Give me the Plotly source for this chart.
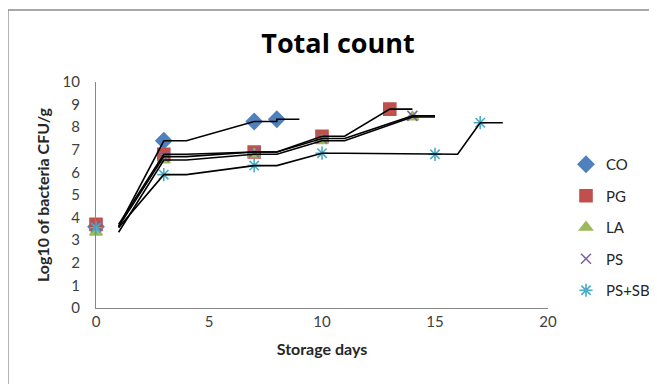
import plotly.graph_objects as go

# ---- data ----
series_names = ["CO", "PG", "LA", "PS", "PS+SB"]
co_days = [0, 3, 7, 8]
co_vals = [3.6, 7.4, 8.25, 8.35]
pg_days = [0, 3, 7, 10, 13]
pg_vals = [3.7, 6.8, 6.9, 7.6, 8.8]
la_days = [0, 3, 7, 10, 14]
la_vals = [3.35, 6.55, 6.8, 7.4, 8.45]
ps_days = [0, 3, 7, 10, 14]
ps_vals = [3.6, 6.7, 6.9, 7.5, 8.5]
pssb_days = [0, 3, 7, 10, 15, 17]
pssb_vals = [3.55, 5.9, 6.3, 6.85, 6.8, 8.2]

x_ticks = [0, 5, 10, 15, 20]
y_ticks = list(range(0, 11))

styles = {
    "CO": dict(symbol="diamond", color="#4F81BD", size=12),
    "PG": dict(symbol="square", color="#C0504D", size=12),
    "LA": dict(symbol="triangle-up", color="#9BBB59", size=11),
    "PS": dict(symbol="x-thin-open", color="#8064A2", size=10),
    "PS+SB": dict(symbol="asterisk-open", color="#4BACC6", size=11),
}

data = {
    "CO": (co_days, co_vals),
    "PG": (pg_days, pg_vals),
    "LA": (la_days, la_vals),
    "PS": (ps_days, ps_vals),
    "PS+SB": (pssb_days, pssb_vals),
}

fig = go.Figure()

for i, name in enumerate(series_names):
    d, v = data[name]
    s = styles[name]
    fig.add_trace(go.Scatter(
        x=d, y=v, mode="markers", name=name,
        legendgroup=name,
        cliponaxis=False,
        marker=dict(symbol=s["symbol"], color=s["color"], size=s["size"],
                    line=dict(color=s["color"], width=1.6)),
    ))

# black trend lines: each value held for one day
for name in series_names:
    d, v = data[name]
    lx = [d[0] + 1]
    ly = [v[0]]
    for di, vi in zip(d[1:], v[1:]):
        lx += [di, di + 1]
        ly += [vi, vi]
    fig.add_trace(go.Scatter(
        x=lx, y=ly, mode="lines", showlegend=False, hoverinfo="skip",
        cliponaxis=False,
        line=dict(color="black", width=1.6),
    ))

# the page body adds an 8px offset; work in reference pixels minus OFF
OFF = 8
W, H = 657 - OFF, 384 - OFF
L, R, T, B = 96 - OFF, 548 - OFF, 82 - OFF, 308 - OFF
pw, ph = R - L, B - T

def px_x(p):
    return (p - OFF - L) / pw

def px_y(p):
    return (B - (p - OFF)) / ph

FAM = "Lato, 'Open Sans', sans-serif"
axis_font = dict(family=FAM, size=15, color="#404040")
title_font = dict(family=FAM, size=16, color="#262626")

fig.update_layout(
    width=W, height=H,
    margin=dict(l=L, r=W - R, t=T, b=H - B),
    paper_bgcolor="white", plot_bgcolor="white",
    showlegend=True,
    title=dict(text="<b>Total count</b>", xref="container", x=(338 - OFF) / W, xanchor="center",
               yref="container", y=1 - (44 - OFF) / H, yanchor="middle",
               font=dict(family="'Open Sans', sans-serif", size=27, color="black")),
    legend=dict(xref="container", yref="container",
                x=(566 - OFF) / W, y=1 - (148 - OFF) / H, xanchor="left", yanchor="top",
                font=dict(family=FAM, size=15, color="#262626"),
                tracegroupgap=9, bgcolor="rgba(0,0,0,0)"),
    xaxis=dict(range=[0, 20], tickvals=x_ticks, showgrid=False, zeroline=False,
               showline=True, linecolor="#868686", linewidth=1.3, ticks="",
               tickfont=axis_font, automargin=False,
               title=dict(text="<b>Storage days</b>", font=title_font, standoff=14)),
    yaxis=dict(range=[0, 10], tickvals=y_ticks, showgrid=False, zeroline=False,
               showline=True, linecolor="#868686", linewidth=1.3, ticks="",
               tickfont=axis_font, automargin=False, ticklabelstandoff=12,
               title=dict(text="<b>Log10 of bacteria CFU/g</b>", font=title_font, standoff=8)),
    shapes=[dict(type="rect", xref="paper", yref="paper",
                 x0=px_x(8), x1=px_x(700), y0=px_y(420), y1=px_y(10),
                 line=dict(color="#8c8c8c", width=1.3), fillcolor="rgba(0,0,0,0)",
                 layer="below")],
)

fig.write_html("out.html")
